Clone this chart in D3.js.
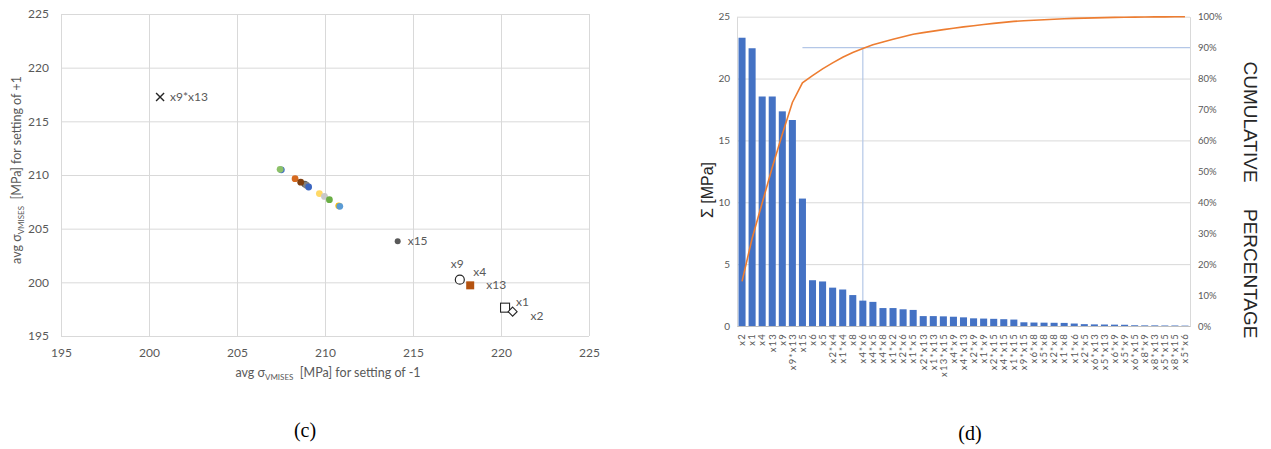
<!DOCTYPE html>
<html>
<head>
<meta charset="utf-8">
<script src="https://cdn.jsdelivr.net/npm/d3@7"></script>
<style>
  body { margin: 0; background: #fff; }
  svg text { font-family: Lato, 'Open Sans', sans-serif; }
  .serif { font-family: 'Liberation Serif', 'DejaVu Serif', serif; }
</style>
</head>
<body>
<svg id="chart" width="1271" height="449"></svg>
<script>
// DATA
// ----------------------------
// (c) scatter: avg von Mises stress, setting -1 vs setting +1
const scatterTicks = [195, 200, 205, 210, 215, 220, 225]

// labelled factors
const labelNames = ['x9*x13', 'x15', 'x9', 'x4', 'x13', 'x1', 'x2']
const labelX = [200.63, 214.13, 217.66, 218.2, 218.25, 220.23, 220.66]
const labelY = [217.27, 203.82, 200.25, 199.8, 199.72, 197.64, 197.27]

// unlabelled factors (the cluster)
const clusterX = [207.52, 207.45, 208.3, 208.85, 208.95, 209.07, 208.62, 209.68, 209.97, 210.25, 210.78, 210.84]
const clusterY = [210.48, 210.53, 209.66, 209.15, 209.05, 208.88, 209.33, 208.27, 208.0, 207.7, 207.13, 207.08]

// (d) pareto of effects
const paretoNames = ['x2', 'x1', 'x4', 'x13', 'x9', 'x9*x13', 'x15', 'x6', 'x5', 'x2*x4',
  'x1*x4', 'x8', 'x4*x6', 'x4*x5', 'x4*x8', 'x1*x2', 'x2*x6', 'x1*x5', 'x2*x13', 'x1*x13',
  'x13*x15', 'x4*x9', 'x4*x13', 'x2*x9', 'x1*x9', 'x2*x15', 'x4*x15', 'x1*x15', 'x9*x15', 'x6*x8',
  'x5*x8', 'x2*x8', 'x1*x8', 'x1*x6', 'x2*x5', 'x6*x13', 'x5*x13', 'x6*x9', 'x5*x9', 'x6*x15',
  'x8*x9', 'x8*x13', 'x5*x15', 'x8*x15', 'x5*x6']
const paretoValues = [23.3, 22.45, 18.55, 18.55, 17.35, 16.65, 10.3, 3.7, 3.6, 3.1,
  2.95, 2.5, 2.05, 1.95, 1.45, 1.45, 1.35, 1.3, 0.8, 0.8,
  0.78, 0.75, 0.7, 0.62, 0.6, 0.58, 0.55, 0.52, 0.3, 0.28,
  0.27, 0.26, 0.25, 0.2, 0.15, 0.13, 0.12, 0.11, 0.1, 0.06,
  0.05, 0.05, 0.04, 0.04, 0.03]
const valueTicks = [0, 5, 10, 15, 20, 25]
const pctTicks = [0, 0.1, 0.2, 0.3, 0.4, 0.5, 0.6, 0.7, 0.8, 0.9, 1]
const cutoffPct = 0.9
const cutoffFrom = 'x15'   // where the 90% guide starts
const cutoffAt = 'x4*x6'   // where the 90% guide drops down

// STYLE
// ----------------------------
const grey = '#595959'
const gridCol = '#d9d9d9'
const clusterColor = ['#4472c4', '#8cc168', '#d66a1f', '#595959', '#7f7f7f', '#3a65c0',
  '#7f3f10', '#ffd966', '#c9c9c9', '#6aae45', '#ffc000', '#5b9bd5']
const markerOf = {
  'x9*x13': 'cross', 'x15': 'dot', 'x9': 'circle', 'x4': 'hidden',
  'x13': 'square', 'x1': 'openSquare', 'x2': 'diamond'
}
// label offsets (px) from the point, Excel style data labels
const labelOffset = {
  'x9*x13': [10, 4], 'x15': [10, 4], 'x9': [-9, -12], 'x4': [4, -8],
  'x13': [16, 4], 'x1': [11, -2], 'x2': [18, 8]
}

const svg = d3.select('#chart')

// (c) SCATTER
// ----------------------------
const sx = d3.scaleLinear().domain([195, 225]).range([61, 589])
const sy = d3.scaleLinear().domain([195, 225]).range([336, 14])
const sc = svg.append('g')

sc.append('g')
  .attr('transform', `translate(0, ${sy(195)})`)
  .call(d3.axisBottom(sx).tickValues(scatterTicks).tickSize(-(sy(195) - sy(225))).tickPadding(12))
  .call(g => g.select('.domain').remove())
  .call(g => g.selectAll('line').attr('stroke', gridCol))
  .call(g => g.selectAll('text').attr('fill', grey).attr('font-size', 12))

sc.append('g')
  .attr('transform', `translate(${sx(195)}, 0)`)
  .call(d3.axisLeft(sy).tickValues(scatterTicks).tickSize(-(sx(225) - sx(195))).tickPadding(12))
  .call(g => g.select('.domain').remove())
  .call(g => g.selectAll('line').attr('stroke', gridCol))
  .call(g => g.selectAll('text').attr('fill', grey).attr('font-size', 12))

// axis titles with subscript
function stressTitle (sel, suffix) {
  sel.append('tspan').text('avg σ')
  sel.append('tspan').attr('font-size', 8).attr('dy', 3).text('VMISES')
  sel.append('tspan').attr('dy', -3).style('white-space', 'pre').text('  [MPa] for setting of ' + suffix)
}
sc.append('text')
  .attr('x', 328).attr('y', 377)
  .attr('text-anchor', 'middle').attr('fill', grey).attr('font-size', 12.5)
  .call(stressTitle, '-1')
sc.append('text')
  .attr('transform', 'translate(21, 170) rotate(-90)')
  .attr('text-anchor', 'middle').attr('fill', grey).attr('font-size', 12.5)
  .call(stressTitle, '+1')

// cluster points
sc.selectAll('.cl')
  .data(clusterX)
  .enter()
  .append('circle')
  .attr('class', 'cl')
  .attr('cx', d => sx(d))
  .attr('cy', (d, i) => sy(clusterY[i]))
  .attr('r', 3.4)
  .attr('fill', (d, i) => clusterColor[i])

// labelled points
const lp = sc.selectAll('.lp')
  .data(labelNames)
  .enter()
  .append('g')
  .attr('class', 'lp')
  .attr('transform', (d, i) => `translate(${sx(labelX[i])}, ${sy(labelY[i])})`)

lp.each(function (d) {
  const g = d3.select(this)
  const m = markerOf[d]
  if (m === 'cross') {
    g.append('path').attr('d', 'M-4,-4L4,4M-4,4L4,-4').attr('stroke', '#262626').attr('stroke-width', 1.4)
  } else if (m === 'dot') {
    g.append('circle').attr('r', 3).attr('fill', '#595959')
  } else if (m === 'circle') {
    g.append('circle').attr('r', 4.5).attr('fill', '#fff').attr('stroke', '#262626').attr('stroke-width', 1.2)
  } else if (m === 'square') {
    g.append('rect').attr('x', -4).attr('y', -4).attr('width', 8).attr('height', 8).attr('fill', '#b4520f')
  } else if (m === 'openSquare') {
    g.append('rect').attr('x', -4.5).attr('y', -4.5).attr('width', 9).attr('height', 9)
      .attr('fill', '#fff').attr('stroke', '#262626').attr('stroke-width', 1.1)
  } else if (m === 'diamond') {
    g.append('path').attr('d', 'M0,-4.5L4.5,0L0,4.5L-4.5,0Z')
      .attr('fill', '#fff').attr('stroke', '#262626').attr('stroke-width', 1.1)
  }
  g.append('text')
    .attr('x', labelOffset[d][0]).attr('y', labelOffset[d][1])
    .attr('fill', grey).attr('font-size', 12)
    .text(d)
})

// (d) PARETO
// ----------------------------
const bx = d3.scaleBand().domain(paretoNames).range([737, 1190]).paddingInner(0.3).paddingOuter(0.15)
const by = d3.scaleLinear().domain([0, 25]).range([326, 16.7])
const byPct = d3.scaleLinear().domain([0, 1]).range([326, 16.7])
const pa = svg.append('g')

// grid + left axis
pa.append('g')
  .attr('transform', `translate(${bx.range()[0]}, 0)`)
  .call(d3.axisLeft(by).tickValues(valueTicks).tickSize(-(bx.range()[1] - bx.range()[0])).tickSizeOuter(0).tickPadding(7))
  .call(g => g.select('.domain').attr('stroke', gridCol))
  .call(g => g.selectAll('.tick line').attr('stroke', gridCol))
  .call(g => g.selectAll('text').attr('fill', grey).attr('font-size', 10))

// right % axis
pa.append('g')
  .attr('transform', `translate(${bx.range()[1]}, 0)`)
  .call(d3.axisRight(byPct).tickValues(pctTicks).tickFormat(d3.format('.0%')).tickSize(0).tickPadding(8))
  .call(g => g.select('.domain').attr('stroke', gridCol))
  .call(g => g.selectAll('text').attr('fill', grey).attr('font-size', 9.5))

// 90% guide
const cum = d3.cumsum(paretoValues)
const total = cum[cum.length - 1]
const cx0 = bx(cutoffFrom) + bx.bandwidth() / 2
const cx1 = bx(cutoffAt) + bx.bandwidth() / 2
pa.append('line')
  .attr('x1', cx0).attr('x2', bx.range()[1])
  .attr('y1', byPct(cutoffPct)).attr('y2', byPct(cutoffPct))
  .attr('stroke', '#b4c7e7').attr('stroke-width', 1.2)
pa.append('line')
  .attr('x1', cx1).attr('x2', cx1)
  .attr('y1', byPct(cutoffPct)).attr('y2', by(0))
  .attr('stroke', '#b4c7e7').attr('stroke-width', 1.2)

// bars
pa.selectAll('.bar')
  .data(paretoValues)
  .enter()
  .append('rect')
  .attr('class', 'bar')
  .attr('x', (d, i) => bx(paretoNames[i]))
  .attr('y', d => by(d))
  .attr('width', bx.bandwidth())
  .attr('height', d => by(0) - by(d))
  .attr('fill', '#4472c4')

// bottom axis + category labels
pa.append('g')
  .attr('transform', `translate(0, ${by(0)})`)
  .call(d3.axisBottom(bx).tickSize(0).tickSizeOuter(0))
  .call(g => g.select('.domain').attr('stroke', '#bfbfbf'))
  .call(g => g.selectAll('text')
    .attr('fill', grey).attr('font-size', 9.5)
    .style('letter-spacing', '1.2px')
    .attr('transform', 'rotate(-90)')
    .attr('text-anchor', 'end')
    .attr('x', -7).attr('y', 0).attr('dy', '0.35em'))

// cumulative line
const line = d3.line()
  .x((d, i) => bx(paretoNames[i]) + bx.bandwidth() / 2)
  .y(d => byPct(d / total))
pa.append('path')
  .datum(cum)
  .attr('d', line)
  .attr('fill', 'none')
  .attr('stroke', '#ed7d31')
  .attr('stroke-width', 1.6)

// axis titles
pa.append('text')
  .attr('transform', 'translate(713, 190) rotate(-90)')
  .attr('text-anchor', 'middle')
  .attr('font-size', 16)
  .attr('fill', '#262626')
  .style('font-family', "'Liberation Sans', Arial, sans-serif")
  .text('Σ [MPa]')
pa.append('text')
  .attr('transform', 'translate(1244, 200) rotate(90)')
  .attr('text-anchor', 'middle')
  .attr('font-size', 19)
  .attr('fill', '#262626')
  .style('font-family', "'Liberation Sans', Arial, sans-serif")
  .style('white-space', 'pre')
  .text('CUMULATIVE     PERCENTAGE')

// captions
svg.append('text').attr('class', 'serif').attr('x', 305).attr('y', 437)
  .attr('text-anchor', 'middle').attr('font-size', 20).text('(c)')
svg.append('text').attr('class', 'serif').attr('x', 970).attr('y', 440)
  .attr('text-anchor', 'middle').attr('font-size', 20).text('(d)')
</script>
</body>
</html>
